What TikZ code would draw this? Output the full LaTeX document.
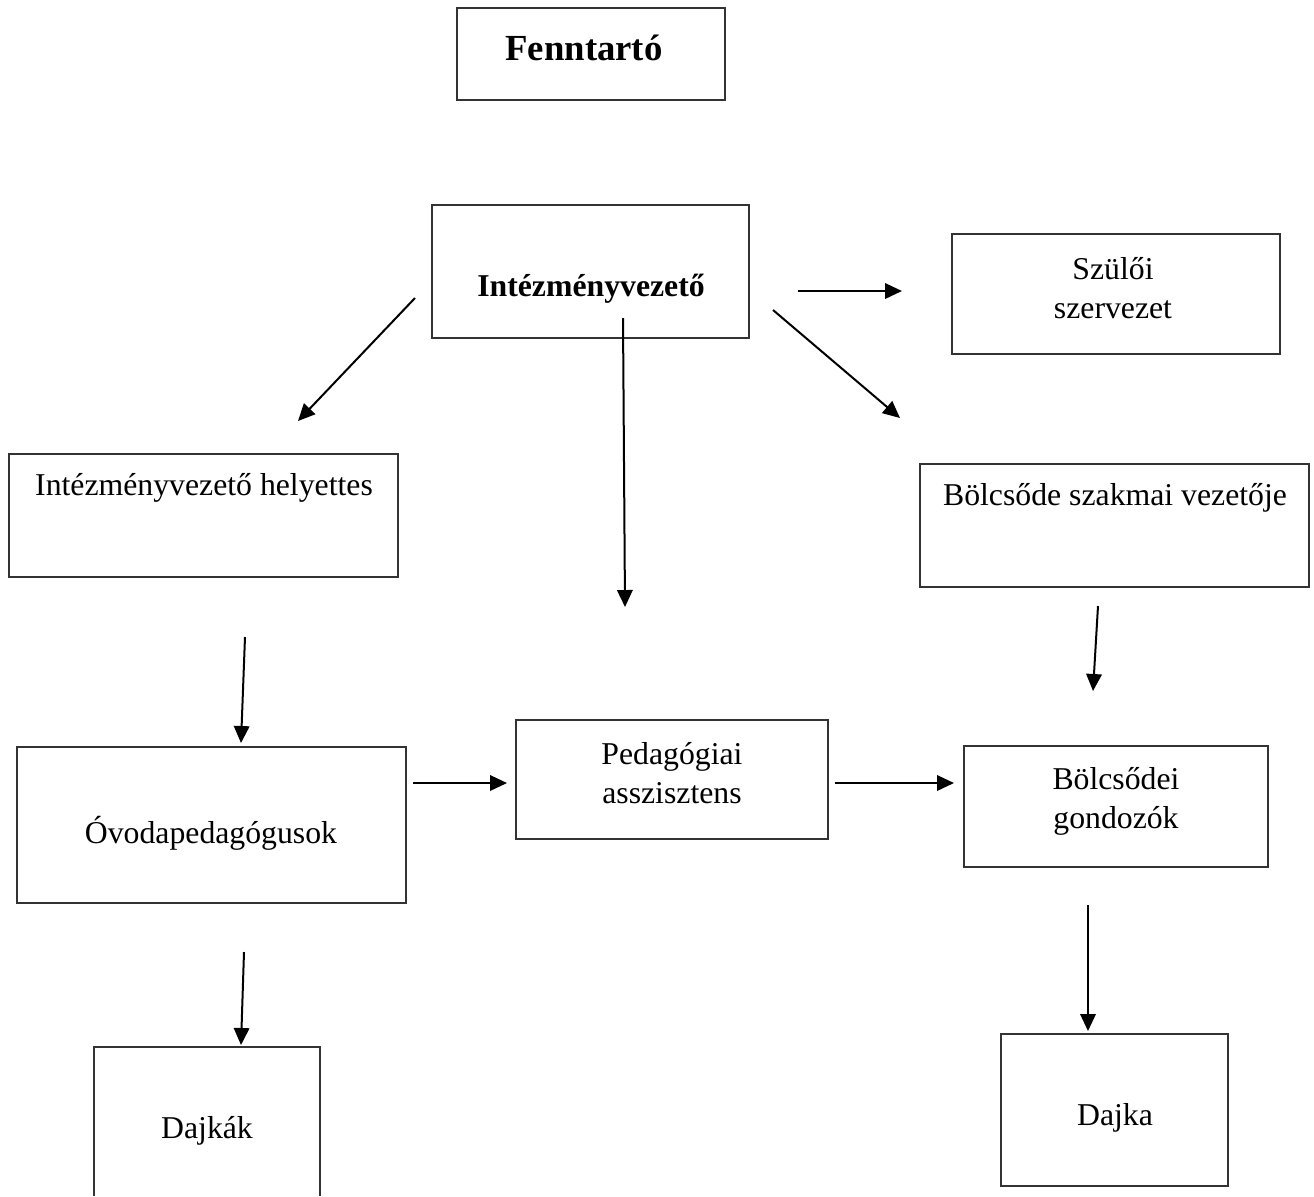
\documentclass[tikz,border=0pt]{standalone}
\usepackage{fontspec}
\setmainfont{Liberation Serif}
\usetikzlibrary{arrows.meta,fit}
\begin{document}
\begin{tikzpicture}[x=0.4pt,y=-0.4pt,
  box/.style={draw=black!80,line width=0.55pt,inner sep=0pt,rectangle},
  txt/.style={font=\fontsize{12.7}{15.5}\selectfont,align=center,inner sep=0pt},
  arr/.style={line width=0.8pt,-{Triangle[length=6.8pt,width=6.2pt]}}]
\useasboundingbox (0,0) rectangle (1314,1196);
% boxes
\node[box,fit={(457,8)(725,100)}] (fen) {};
\node[box,fit={(432,205)(749,338)}] (iv) {};
\node[box,fit={(952,234)(1280,354)}] (szu) {};
\node[box,fit={(9,454)(398,577)}] (ivh) {};
\node[box,fit={(920,464)(1309,587)}] (bsz) {};
\node[box,fit={(17,747)(406,903)}] (ovp) {};
\node[box,fit={(516,720)(828,839)}] (ped) {};
\node[box,fit={(964,746)(1268,867)}] (bgo) {};
\node[box,fit={(1001,1034)(1228,1186)}] (dja) {};
\coordinate (dk1) at (94,1196);
\coordinate (dk2) at (94,1047);
\coordinate (dk3) at (320,1047);
\coordinate (dk4) at (320,1196);
\draw[draw=black!80,line width=0.55pt] (dk1) -- (dk2) -- (dk3) -- (dk4);
% texts
\node[txt,font=\fontsize{14.7}{17}\selectfont\bfseries] (t-fen) at (584,48) {Fenntartó};
\node[txt,font=\fontsize{12.7}{15.5}\selectfont\bfseries] (t-iv) at (591,289) {Intézményvezető};
\node[txt] (t-szu) at (1113,288) {Szülői\\szervezet};
\node[txt] (t-ivh) at (204,488) {Intézményvezető helyettes};
\node[txt] (t-bsz) at (1115,498) {Bölcsőde szakmai vezetője};
\node[txt] (t-ovp) at (211,833) {Óvodapedagógusok};
\node[txt] (t-ped) at (672,773) {Pedagógiai\\asszisztens};
\node[txt] (t-bgo) at (1116,801) {Bölcsődei\\gondozók};
\node[txt] (t-dk) at (207,1131) {Dajkák};
\node[txt] (t-dja) at (1115,1118) {Dajka};
% arrow endpoints
\coordinate (a1s) at (415,298); \coordinate (a1e) at (298,421);
\coordinate (a2s) at (623,318); \coordinate (a2e) at (625,607);
\coordinate (a3s) at (798,291); \coordinate (a3e) at (902,291);
\coordinate (a4s) at (773,310); \coordinate (a4e) at (900,418);
\coordinate (a5s) at (245,637); \coordinate (a5e) at (241,743);
\coordinate (a6s) at (1098,606); \coordinate (a6e) at (1093,691);
\coordinate (a7s) at (413,783); \coordinate (a7e) at (507,783);
\coordinate (a8s) at (835,783); \coordinate (a8e) at (954,783);
\coordinate (a9s) at (244,952); \coordinate (a9e) at (241,1045);
\coordinate (a10s) at (1088,905); \coordinate (a10e) at (1088,1031);
\foreach \i in {1,...,10} \draw[arr] (a\i s) -- (a\i e);
\end{tikzpicture}
\end{document}
